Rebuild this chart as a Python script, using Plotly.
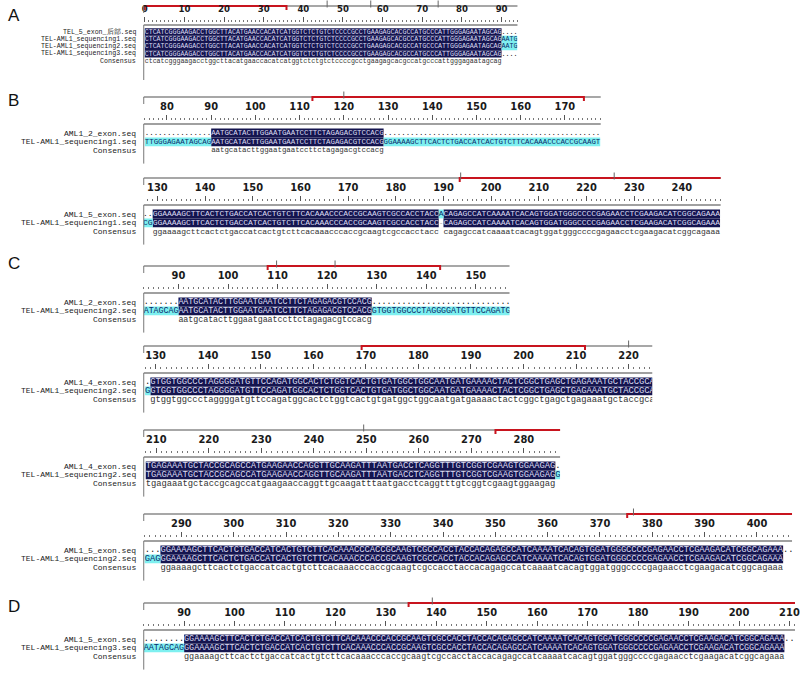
import math
import plotly.graph_objects as go

W, H = 800, 673

# ---------------- data: sequences ----------------
TEL5_END = "".join(["CTCATCGGGA", "AGACCTGGCT", "TACATGAACC", "ACATCATGGT", "CTCTGTCTCC",
                    "CCGCCTGAAG", "AGCACGCCAT", "GCCCATTGGG", "AGAATAGCAG"])
AML1_EXON2 = "".join(["AATGCATACT", "TGGAATGAAT", "CCTTCTAGAG", "ACGTCCACG"])
AML1_EXON4 = "".join(["GTGGTGGCCC", "TAGGGGATGT", "TCCAGATGGC", "ACTCTGGTCA", "CTGTGATGGC",
                      "TGGCAATGAT", "GAAAACTACT", "CGGCTGAGCT", "GAGAAATGCT", "ACCGCAGCCA",
                      "TGAAGAACCA", "GGTTGCAAGA", "TTTAATGACC", "TCAGGTTTGT", "CGGTCGAAGT", "GGAAGAG"])
AML1_EXON5 = "".join(["GGAAAAGCTT", "CACTCTGACC", "ATCACTGTCT", "TCACAAACCC", "ACCGCAAGTC",
                      "GCCACCTACC", "ACAGAGCCAT", "CAAAATCACA", "GTGGATGGGC", "CCCGAGAACC",
                      "TCGAAGACAT", "CGGCAGAAA"])

READ1 = TEL5_END + AML1_EXON2 + AML1_EXON5[:60] + "-" + AML1_EXON5[61:]
READ2 = TEL5_END + AML1_EXON2 + AML1_EXON4 + AML1_EXON5
READ3 = TEL5_END + AML1_EXON5

# ---------------- data: alignment blocks ----------------
BLOCK_IDS = ["A", "B1", "B2", "C1", "C2", "C3", "C4", "D"]
# (row name, sequence, alignment offset, pad character)
BLOCK_ROWS = {
    "A": [("TEL_5_exon_后部.seq", TEL5_END, 0, "."),
          ("TEL-AML1_sequencing1.seq", READ1[:94], 0, "."),
          ("TEL-AML1_sequencing2.seq", READ2[:94], 0, "."),
          ("TEL-AML1_sequencing3.seq", READ3[:90], 0, ".")],
    "B1": [("AML1_2_exon.seq", AML1_EXON2, 90, "."), ("TEL-AML1_sequencing1.seq", READ1, 0, " ")],
    "B2": [("AML1_5_exon.seq", AML1_EXON5, 129, "."), ("TEL-AML1_sequencing1.seq", READ1, 0, " ")],
    "C1": [("AML1_2_exon.seq", AML1_EXON2, 90, "."), ("TEL-AML1_sequencing2.seq", READ2, 0, " ")],
    "C2": [("AML1_4_exon.seq", AML1_EXON4, 129, "."), ("TEL-AML1_sequencing2.seq", READ2, 0, " ")],
    "C3": [("AML1_4_exon.seq", AML1_EXON4, 129, "."), ("TEL-AML1_sequencing2.seq", READ2, 0, " ")],
    "C4": [("AML1_5_exon.seq", AML1_EXON5, 286, "."), ("TEL-AML1_sequencing2.seq", READ2, 0, " ")],
    "D": [("AML1_5_exon.seq", AML1_EXON5, 90, "."), ("TEL-AML1_sequencing3.seq", READ3, 0, " ")],
}
# red bracket on the ruler (start, end) and small ruler marks
RULER_RED = {"A": (0, 35.75), "B1": (112.9, 174.3), "B2": (193.4, 252), "C1": (108.0, 142.8),
             "C2": (169.2, 211.7), "C3": (274.6, 292), "C4": (375.2, 412), "D": (134.5, 216)}
RULER_MARKS = {"A": [46, 57, 74], "B1": [120], "B2": [193.6, 225.8], "C1": [109.8, 121.6],
               "C2": [220], "C3": [249.5], "C4": [376.4], "D": [139.2]}
PANEL_LETTERS = ["A", "B", "C", "D"]
CONSENSUS_NAME = "Consensus"

# ---------------- layout (pixel geometry) ----------------
def blk(x, v, n, step=8.8, nfs=11, lfs=8):
    row0 = n + 25
    return dict(x=x, v=v, top=n - 11, dots=n + 12, box=n + 16, row0=row0, step=step,
                end=row0 + 2 * step + 13, nfs=nfs, lfs=lfs)

GEOM = {
    "A":  dict(x=(143, 520), v=(-0.25, 94.0), top=6, dots=22, box=25, row0=32, step=7.3, end=80, nfs=9.5, lfs=6.6),
    "B1": blk((143, 604), (74.75, 178.1), 108),
    "B2": blk((143, 725), (127.13, 248.13), 189),
    "C1": blk((143, 512), (83.0, 156.8), 277),
    "C2": blk((143, 656), (127.74, 224.5), 357),
    "C3": blk((143, 563), (207.62, 286.9), 441),
    "C4": blk((143, 797), (282.81, 406.7), 525),
    "D":  blk((143, 800), (82.0, 211.1), 614),
}
LETTER_POS = {"A": 15, "B": 100, "C": 264, "D": 606}

DARK_BG, CYAN_BG = "#15154f", "#7ef0f0"
DARK_FG, CYAN_FG, DOT_FG, CONS_FG, GAP_FG = "#dcdcf2", "#0a2a6a", "#111111", "#333333", "#aaaaaa"
MONO = "Liberation Mono, Courier New, monospace"
NUMFONT = "Liberation Sans Narrow, DejaVu Sans Condensed, Roboto Condensed, Arial Narrow, Roboto, sans-serif"

fig = go.Figure()
axes = {}
shapes = []
annotations = []

for j, b in enumerate(BLOCK_IDS):
    g = GEOM[b]
    sfx = "" if j == 0 else str(j + 1)
    xa, ya = "x" + sfx, "y" + sfx
    lo, hi = g["v"]
    x0, x1 = g["x"]
    ppp = (x1 - x0) / (hi - lo)
    fs = ppp / 0.6
    rows = BLOCK_ROWS[b]
    cols = list(range(math.ceil(lo - 0.5), math.floor(hi - 0.5) + 1))
    grid = []
    for name, seq, off, pad in rows:
        line = []
        for i in cols:
            k = i - off
            line.append(seq[k] if 0 <= k < len(seq) else pad)
        grid.append(line)
    cons = []
    for c in range(len(cols)):
        col = [ln[c] for ln in grid]
        if all(ch.isalpha() for ch in col) and len(set(col)) == 1:
            cons.append(col[0].lower())
        else:
            cons.append(" ")

    dark_runs, cyan_runs = [], []
    for r, line in enumerate(grid):
        y = g["row0"] + r * g["step"]
        kinds = [("d" if cons[c] != " " else ("c" if ch.isalpha() else None)) for c, ch in enumerate(line)]
        c = 0
        while c < len(kinds):
            kd = kinds[c]
            if kd is None:
                c += 1
                continue
            s = c
            while c < len(kinds) and kinds[c] == kd:
                c += 1
            (dark_runs if kd == "d" else cyan_runs).append((y, cols[s], cols[c - 1] + 1))
    for runs, color in ((dark_runs, DARK_BG), (cyan_runs, CYAN_BG)):
        if runs:
            fig.add_trace(go.Bar(orientation="h", y=[r[0] for r in runs], base=[r[1] for r in runs],
                                 x=[r[2] - r[1] for r in runs], width=g["step"],
                                 marker=dict(color=color, line=dict(width=0)),
                                 xaxis=xa, yaxis=ya, hoverinfo="skip", showlegend=False))

    for r, line in enumerate(grid):
        y = g["row0"] + r * g["step"]
        xs, txt, colr = [], [], []
        for c, ch in enumerate(line):
            if ch == " ":
                continue
            xs.append(cols[c] + 0.5)
            txt.append(ch)
            if cons[c] != " ":
                colr.append(DARK_FG)
            elif ch.isalpha():
                colr.append(CYAN_FG)
            elif ch == "-":
                colr.append(GAP_FG)
            else:
                colr.append(DOT_FG)
        fig.add_trace(go.Scatter(x=xs, y=[y] * len(xs), mode="text", text=txt,
                                 textposition="middle center",
                                 textfont=dict(family=MONO, size=fs, color=colr),
                                 xaxis=xa, yaxis=ya, hoverinfo="skip", showlegend=False))
        annotations.append(dict(text=rows[r][0], x=(x0 - 6) / W, xref="paper", y=y, yref=ya,
                                xanchor="right", yanchor="middle", showarrow=False,
                                font=dict(family=MONO, size=g["lfs"], color="#222")))
    yc = g["row0"] + len(rows) * g["step"]
    xs = [cols[c] + 0.5 for c in range(len(cols)) if cons[c] != " "]
    tx = [cons[c] for c in range(len(cols)) if cons[c] != " "]
    fig.add_trace(go.Scatter(x=xs, y=[yc] * len(xs), mode="text", text=tx, textposition="middle center",
                             textfont=dict(family=MONO, size=fs, color=CONS_FG),
                             xaxis=xa, yaxis=ya, hoverinfo="skip", showlegend=False))
    annotations.append(dict(text=CONSENSUS_NAME, x=(x0 - 6) / W, xref="paper", y=yc, yref=ya,
                            xanchor="right", yanchor="middle", showarrow=False,
                            font=dict(family=MONO, size=g["lfs"], color="#222")))

    shapes.append(dict(type="line", xref=f"{xa} domain", x0=0, x1=1, yref=ya, y0=g["top"], y1=g["top"],
                       line=dict(color="#8a8a8a", width=1.5), layer="below"))
    shapes.append(dict(type="line", xref=f"{xa} domain", x0=0, x1=1, yref=ya, y0=g["box"], y1=g["box"],
                       line=dict(color="#a0a0a0", width=2)))
    shapes.append(dict(type="line", xref=f"{xa} domain", x0=0, x1=0, yref=ya, y0=g["top"], y1=g["top"] + 7,
                       line=dict(color="#777", width=1)))
    shapes.append(dict(type="line", xref=f"{xa} domain", x0=0, x1=0, yref=ya, y0=g["box"], y1=g["end"],
                       line=dict(color="#777", width=1)))
    rs, re_ = RULER_RED[b]
    fig.add_trace(go.Scatter(x=[rs, rs, re_, re_], y=[g["top"] + 4, g["top"], g["top"], g["top"] + 4],
                             mode="lines", line=dict(color="#c8141e", width=2),
                             xaxis=xa, yaxis=ya, hoverinfo="skip", showlegend=False))
    mk = RULER_MARKS[b]
    fig.add_trace(go.Scatter(x=mk, y=[g["top"] - 2] * len(mk), mode="markers",
                             marker=dict(symbol="line-ns", size=5, line=dict(color="#666", width=1)),
                             xaxis=xa, yaxis=ya, hoverinfo="skip", showlegend=False))

    axes["xaxis" + sfx] = dict(domain=[x0 / W, x1 / W], range=[lo, hi], anchor="free",
                               position=1 - g["dots"] / H,
                               side="top", showgrid=False, zeroline=False, showline=False,
                               ticks="outside", ticklen=5, tickwidth=1, tickcolor="#555", dtick=10, tick0=0,
                               tickfont=dict(family=NUMFONT, size=g["nfs"], color="#1a1a1a", weight="bold"),
                               ticklabelstandoff=1, ticklabeloverflow="allow",
                               minor=dict(ticks="outside", ticklen=2, dtick=1, tick0=0, tickcolor="#777",
                                          tickwidth=1),
                               fixedrange=True)
    axes["yaxis" + sfx] = dict(domain=[0, 1], range=[H, 0], visible=False, fixedrange=True, anchor=xa)

for L in PANEL_LETTERS:
    annotations.append(dict(text=L, x=12 / W, xref="paper", y=1 - LETTER_POS[L] / H, yref="paper",
                            xanchor="center", yanchor="middle", showarrow=False,
                            font=dict(family="Liberation Sans, Arial, sans-serif", size=17, color="#111")))

fig.update_layout(width=W, height=H, margin=dict(l=0, r=0, t=0, b=0), paper_bgcolor="white",
                  plot_bgcolor="rgba(0,0,0,0)", barmode="overlay", showlegend=False,
                  shapes=shapes, annotations=annotations, **axes)
fig.write_html("out.html", post_script="document.body.style.margin='0px';",
               config={"displayModeBar": False})
